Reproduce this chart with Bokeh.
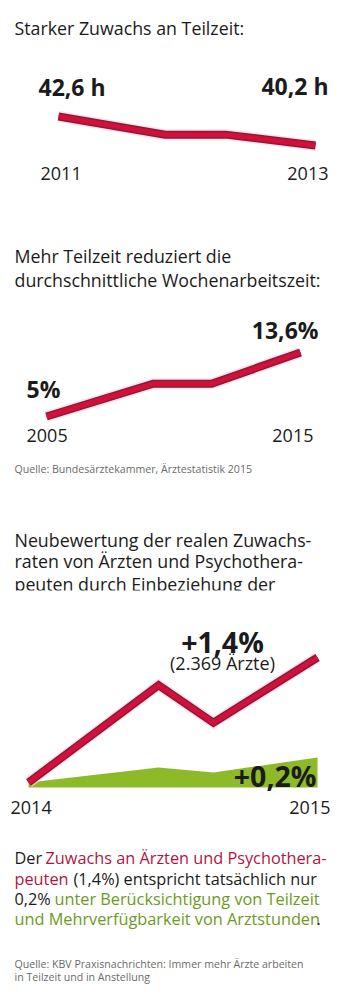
from bokeh.plotting import figure
from bokeh.models import Range1d
from bokeh.core.properties import value
from bokeh.embed import file_html
from bokeh.resources import INLINE

# ---------------- data ----------------
# Chart 1: average weekly working hours
c1_years = [2011, 2011.83, 2012.3, 2013]
c1_hours = [42.6, 41.1, 41.1, 40.2]
c1_labels = ["42,6 h", "40,2 h"]
c1_ticks = ["2011", "2013"]

# Chart 2: part-time share (%)
c2_years = [2005, 2009.2, 2011.5, 2015]
c2_share = [5.0, 9.4, 9.4, 13.6]
c2_labels = ["5%", "13,6%"]
c2_ticks = ["2005", "2015"]

# Chart 3: growth of doctors (%) – headcount vs. working hours
c3_x = [2014, 2014.45, 2014.64, 2015]
c3_heads = [0.0, 1.09, 0.67, 1.4]
c3_hours = [0.0, 0.12, 0.08, 0.2]
c3_labels = ["+1,4%", "(2.369 Ärzte)", "+0,2%"]
c3_ticks = ["2014", "2015"]

FONT = "Open Sans"
BLACK = "#1b1b1b"
GREY = "#6b6b6b"
RED_DARK = "#8a1c2e"
RED = "#d3103d"
HALO = "#fbd2ec"
GREEN = "#8dba28"
TXT_RED = "#b0163f"
TXT_GREEN = "#6c9a22"

W, H = 343, 1000
p = figure(width=W, height=H, output_backend="svg", toolbar_location=None,
           x_range=Range1d(0, W), y_range=Range1d(H, 0), min_border=0)
p.axis.visible = False
p.grid.visible = False
p.outline_line_color = None
p.background_fill_color = "white"
p.border_fill_color = "white"


def rng(v1, p1, v2, p2, p_start, p_end):
    k = (p2 - p1) / (v2 - v1)
    return Range1d(start=v1 + (p_start - p1) / k, end=v1 + (p_end - p1) / k)


def txt(x, y, s, size, color=BLACK, bold=False, align="left", dy=7.5):
    p.text(x=[x], y=[y - dy], text=[s], text_font=value(FONT),
           text_font_size=value(f"{size}px"), text_color=color,
           text_font_style="bold" if bold else "normal",
           text_align=align, text_baseline="alphabetic")


def redline(xs, ys, xr, yr):
    p.line(xs, ys, x_range_name=xr, y_range_name=yr, line_color=HALO,
           line_width=11, line_join="miter", line_alpha=0.7)
    p.line(xs, ys, x_range_name=xr, y_range_name=yr, line_color=RED_DARK,
           line_width=8, line_join="miter")
    p.line(xs, ys, x_range_name=xr, y_range_name=yr, line_color=RED,
           line_width=5, line_join="miter")


TS = 17.8   # titles
YS = 18     # year labels
BS = 23     # bold values
BB = 28.5   # big bold values
PS = 16.3   # paragraph
SS = 10.6   # sources

# ---------- chart 1 ----------
p.extra_x_ranges["c1x"] = rng(2011, 58, 2013, 315, 0, W)
p.extra_y_ranges["c1y"] = rng(42.6, 116, 40.2, 145, H, 0)
txt(14, 35, "Starker Zuwachs an Teilzeit:", TS)
redline(c1_years, c1_hours, "c1x", "c1y")
txt(38, 95, c1_labels[0], BS, bold=True, dy=8.5)
txt(328, 94, c1_labels[1], BS, bold=True, align="right", dy=8.5)
txt(40, 180, c1_ticks[0], YS)
txt(328, 180, c1_ticks[1], YS, align="right")

# ---------- chart 2 ----------
p.extra_x_ranges["c2x"] = rng(2005, 46, 2015, 300, 0, W)
p.extra_y_ranges["c2y"] = rng(5.0, 416, 13.6, 352, H, 0)
txt(14, 263, "Mehr Teilzeit reduziert die", TS)
txt(14, 287, "durchschnittliche Wochenarbeitszeit:", TS)
redline(c2_years, c2_share, "c2x", "c2y")
txt(26, 397, c2_labels[0], BS, bold=True, dy=8.5)
txt(318, 338, c2_labels[1], BS, bold=True, align="right", dy=8.5)
txt(26, 442, c2_ticks[0], YS)
txt(313, 442, c2_ticks[1], YS, align="right")
txt(14, 473, "Quelle: Bundesärztekammer, Ärztestatistik 2015", SS, color=GREY, dy=4.5)

# ---------- chart 3 ----------
p.extra_x_ranges["c3x"] = rng(2014, 28, 2015, 317, 0, W)
p.extra_y_ranges["c3y"] = rng(0.0, 782, 1.4, 657, H, 0)
p.extra_y_ranges["c3g"] = rng(0.0, 782, 0.2, 757, H, 0)
txt(14, 547, "Neubewertung der realen Zuwachs-", TS)
txt(14, 568, "raten von Ärzten und Psychothera-", TS)
txt(14, 591, "peuten durch Einbeziehung der", TS)
# the text box is cut off in the original
p.quad(left=[0], right=[W], top=[590], bottom=[606], fill_color="white", line_color=None)

p.varea(x=c3_x, y1=[-0.04] * len(c3_x), y2=c3_hours, x_range_name="c3x",
        y_range_name="c3g", fill_color=GREEN)
redline(c3_x, c3_heads, "c3x", "c3y")
txt(222, 648, c3_labels[0], BB, bold=True, align="center", dy=7)
txt(222, 668, c3_labels[1], YS, align="center", dy=5.5)
txt(316, 782, c3_labels[2], BB, bold=True, align="right", dy=7)
txt(10, 813, c3_ticks[0], YS, dy=6.5)
txt(330, 813, c3_ticks[1], YS, align="right", dy=6.5)

# ---------- paragraph ----------
PD = 5
txt(14, 862, "Der ", PS, dy=PD)
txt(45, 862, "Zuwachs an Ärzten und Psychothera-", PS, color=TXT_RED, dy=PD)
txt(14, 883, "peuten", PS, color=TXT_RED, dy=PD)
txt(73, 883, "(1,4%) entspricht tatsächlich nur", PS, dy=PD)
txt(14, 903, "0,2%", PS, dy=PD)
txt(54, 903, "unter Berücksichtigung von Teilzeit", PS, color=TXT_GREEN, dy=PD)
txt(14, 923, "und Mehrverfügbarkeit von Arztstunden", PS, color=TXT_GREEN, dy=PD)
txt(316, 923, ".", PS, dy=PD)

txt(14, 968, "Quelle: KBV Praxisnachrichten: Immer mehr Ärzte arbeiten", SS, color=GREY, dy=4.5)
txt(14, 981, "in Teilzeit und in Anstellung", SS, color=GREY, dy=4.5)

open("out.html", "w").write(file_html(p, INLINE))
